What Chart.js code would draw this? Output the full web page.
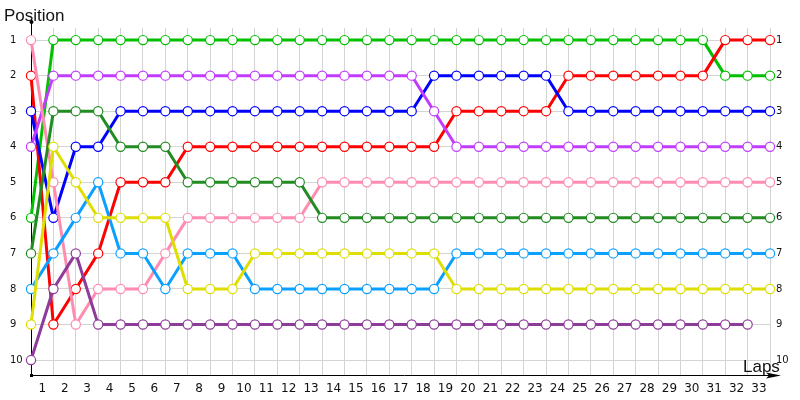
<!DOCTYPE html>
<html>
<head>
<meta charset="utf-8">
<script src="https://cdn.jsdelivr.net/npm/chart.js@4/dist/chart.umd.min.js"></script>
<style>
    body { margin: 0; background: #fff; }
    #wrap { width: 800px; height: 400px; }
</style>
</head>
<body>
<div id="wrap"><canvas id="lap-chart"></canvas></div>
<script>
// lap 0 is the starting grid, then laps 1..33
const laps = [0, 1, 2, 3, 4, 5, 6, 7, 8, 9, 10, 11, 12, 13, 14, 15, 16, 17, 18, 19, 20, 21, 22, 23, 24, 25, 26, 27, 28, 29, 30, 31, 32, 33];
const positionTicks = [1, 2, 3, 4, 5, 6, 7, 8, 9, 10];

const pinkPos      = [1, 5, 9, 8, 8, 8, 7, 6, 6, 6, 6, 6, 6, 5, 5, 5, 5, 5, 5, 5, 5, 5, 5, 5, 5, 5, 5, 5, 5, 5, 5, 5, 5, 5];
const redPos       = [2, 9, 8, 7, 5, 5, 5, 4, 4, 4, 4, 4, 4, 4, 4, 4, 4, 4, 4, 3, 3, 3, 3, 3, 2, 2, 2, 2, 2, 2, 2, 1, 1, 1];
const bluePos      = [3, 6, 4, 4, 3, 3, 3, 3, 3, 3, 3, 3, 3, 3, 3, 3, 3, 3, 2, 2, 2, 2, 2, 2, 3, 3, 3, 3, 3, 3, 3, 3, 3, 3];
const violetPos    = [4, 2, 2, 2, 2, 2, 2, 2, 2, 2, 2, 2, 2, 2, 2, 2, 2, 2, 3, 4, 4, 4, 4, 4, 4, 4, 4, 4, 4, 4, 4, 4, 4, 4];
const greenPos     = [6, 1, 1, 1, 1, 1, 1, 1, 1, 1, 1, 1, 1, 1, 1, 1, 1, 1, 1, 1, 1, 1, 1, 1, 1, 1, 1, 1, 1, 1, 1, 2, 2, 2];
const darkGreenPos = [7, 3, 3, 3, 4, 4, 4, 5, 5, 5, 5, 5, 5, 6, 6, 6, 6, 6, 6, 6, 6, 6, 6, 6, 6, 6, 6, 6, 6, 6, 6, 6, 6, 6];
const lightBluePos = [8, 7, 6, 5, 7, 7, 8, 7, 7, 7, 8, 8, 8, 8, 8, 8, 8, 8, 8, 7, 7, 7, 7, 7, 7, 7, 7, 7, 7, 7, 7, 7, 7, 7];
const yellowPos    = [9, 4, 5, 6, 6, 6, 6, 8, 8, 8, 7, 7, 7, 7, 7, 7, 7, 7, 7, 8, 8, 8, 8, 8, 8, 8, 8, 8, 8, 8, 8, 8, 8, 8];
const purplePos    = [10, 8, 7, 9, 9, 9, 9, 9, 9, 9, 9, 9, 9, 9, 9, 9, 9, 9, 9, 9, 9, 9, 9, 9, 9, 9, 9, 9, 9, 9, 9, 9, 9];

const drivers = [
    { data: purplePos, color: "#8e3c9a" },
    { data: yellowPos, color: "#dede00" },
    { data: lightBluePos, color: "#0aa0ff" },
    { data: darkGreenPos, color: "#228b22" },
    { data: pinkPos, color: "#ff8cb0" },
    { data: violetPos, color: "#c13cff" },
    { data: bluePos, color: "#0000ff" },
    { data: redPos, color: "#ff0000" },
    { data: greenPos, color: "#00c000" },
];

const FONT = "'DejaVu Sans', sans-serif";
const TITLE_FONT = "'Liberation Sans', sans-serif";

// axis lines, arrow and the two axis titles
const axisDecor = {
    id: "axisDecor",
    beforeDatasetsDraw(chart) {
        const { ctx, chartArea } = chart;
        const x0 = chartArea.left, y0 = chartArea.bottom;
        ctx.save();
        ctx.strokeStyle = "#000";
        ctx.fillStyle = "#000";
        ctx.lineWidth = 1;
        ctx.beginPath();
        ctx.moveTo(x0 + 0.5, y0);
        ctx.lineTo(x0 + 0.5, 22);
        ctx.moveTo(x0, y0 + 0.5);
        ctx.lineTo(778, y0 + 0.5);
        ctx.stroke();
        ctx.beginPath();
        ctx.arc(x0 + 0.5, 22, 2, 0, Math.PI * 2);
        ctx.fill();
        ctx.fillRect(x0 - 1, y0 - 1, 3, 3);
        ctx.beginPath();
        ctx.moveTo(781, y0 + 0.5);
        ctx.lineTo(766, y0 - 2.5);
        ctx.lineTo(769, y0 + 0.5);
        ctx.lineTo(766, y0 + 3.5);
        ctx.closePath();
        ctx.fill();
        ctx.restore();
    },
    afterDraw(chart) {
        const { ctx } = chart;
        ctx.save();
        ctx.fillStyle = "#111";
        ctx.font = "17px " + TITLE_FONT;
        ctx.textBaseline = "alphabetic";
        ctx.fillText("Position", 4, 21);
        ctx.fillText("Laps", 743, 372);
        ctx.restore();
    }
};

const ctx = document.getElementById("lap-chart").getContext("2d");
new Chart(ctx, {
    type: "line",
    data: {
        labels: laps,
        datasets: drivers.map(d => ({
            data: d.data.map((p, i) => ({ x: laps[i], y: p })),
            borderColor: d.color,
            borderWidth: 3,
            pointRadius: 4.6,
            pointBorderWidth: 1.2,
            pointBackgroundColor: "#fff",
            pointBorderColor: d.color,
            tension: 0,
            clip: false,
        }))
    },
    options: {
        responsive: true,
        maintainAspectRatio: false,
        animation: false,
        layout: { padding: { left: 10, top: 28, right: 0, bottom: 0 } },
        plugins: {
            legend: { display: false },
            tooltip: { enabled: false },
        },
        scales: {
            x: {
                type: "linear",
                min: 0,
                max: 33,
                afterBuildTicks: (scale) => { scale.ticks = laps.map(v => ({ value: v })); },
                afterFit: (scale) => { scale.height = 25; },
                grid: { color: "#d4d4d4", drawTicks: false },
                border: { display: false },
                ticks: {
                    autoSkip: false,
                    maxRotation: 0,
                    padding: 7,
                    labelOffset: -11,
                    color: "#111",
                    font: { family: FONT, size: 12 },
                    callback: (v) => v === 0 ? "" : String(v),
                },
            },
            y: {
                type: "linear",
                position: "left",
                reverse: true,
                min: 0.66,
                max: 10.42,
                afterBuildTicks: (scale) => { scale.ticks = positionTicks.map(v => ({ value: v })); },
                afterFit: (scale) => { scale.width = 21; },
                grid: { color: "#d4d4d4", drawTicks: false },
                border: { display: false },
                ticks: {
                    crossAlign: "far",
                    padding: 6,
                    color: "#111",
                    font: { family: FONT, size: 10 },
                },
            },
            y2: {
                type: "linear",
                position: "right",
                reverse: true,
                min: 0.66,
                max: 10.42,
                afterBuildTicks: (scale) => { scale.ticks = positionTicks.map(v => ({ value: v })); },
                afterFit: (scale) => { scale.width = 30; },
                grid: { display: false, drawTicks: false },
                border: { display: false },
                ticks: {
                    crossAlign: "near",
                    padding: 6,
                    color: "#111",
                    font: { family: FONT, size: 10 },
                },
            },
        },
    },
    plugins: [axisDecor],
});
</script>
</body>
</html>
